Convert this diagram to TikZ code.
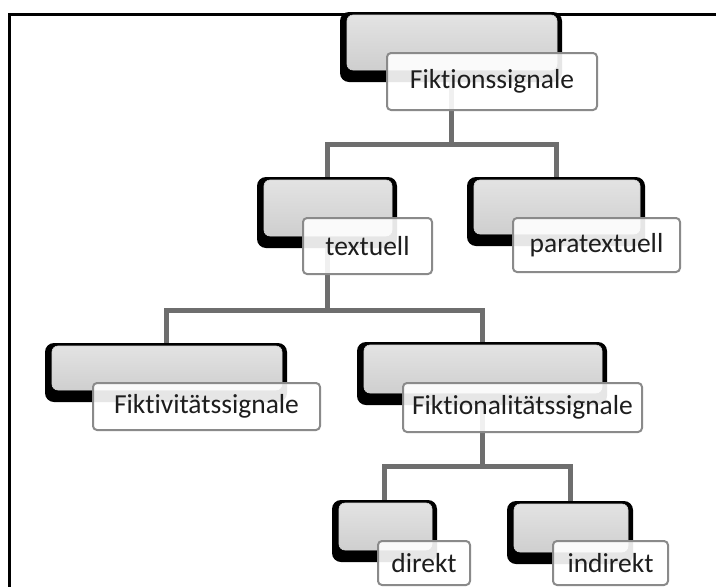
\documentclass[tikz,border=0pt]{standalone}
\usepackage{fontspec}
\setmainfont{Carlito}[Ligatures={NoCommon}]
\usetikzlibrary{backgrounds}
\definecolor{conncol}{HTML}{6E6E6E}
\definecolor{lblborder}{HTML}{8A8A8A}
\definecolor{txtcol}{HTML}{1E1E1E}
\definecolor{gtop}{HTML}{E4E4E4}
\definecolor{gbot}{HTML}{CACACA}
\tikzset{
  frameline/.style={line width=3pt, black},
  conn/.style={line width=5pt, conncol},
  gbox/.style={fill=black, rounded corners=9pt, inner sep=0pt, text width=0pt,
    path picture={
      \shade[top color=gtop, bottom color=gbot, draw=gray!35, line width=0.6pt, rounded corners=6pt]
        ([xshift=7pt,yshift=12pt]path picture bounding box.south west) rectangle
        ([xshift=-5pt,yshift=-3pt]path picture bounding box.north east);
    }},
  lbl/.style={draw=lblborder, line width=2pt, rounded corners=4pt, fill=white, fill opacity=0.9,
    text opacity=1, text=txtcol, inner sep=0pt, font=\fontsize{27.5}{31}\selectfont}
}
\begin{document}
\begin{tikzpicture}[x=1pt,y=-1pt]
\useasboundingbox (0,0) rectangle (716,587);
% gray boxes
\node[gbox, minimum width=222pt, minimum height=70pt] (g1) at (451,47) {};
\node[gbox, minimum width=140pt, minimum height=71pt] (g2) at (327,212.5) {};
\node[gbox, minimum width=178pt, minimum height=69pt] (g3) at (556,211.5) {};
\node[gbox, minimum width=242pt, minimum height=59pt] (g4) at (166,372.5) {};
\node[gbox, minimum width=250pt, minimum height=63pt] (g5) at (482,373.5) {};
\node[gbox, minimum width=105pt, minimum height=62pt] (g6) at (384.5,531) {};
\node[gbox, minimum width=126pt, minimum height=63pt] (g7) at (570,532.5) {};
\coordinate (j1) at (451,144);
\coordinate (j2) at (327,310);
\coordinate (j3) at (482,466);
\begin{pgfonlayer}{background}
% frame
\draw[frameline] (9,587) -- (9,14) -- (716,14);
% connectors
\draw[conn] (g1.center) -- (j1);
\draw[conn] (g2.north) |- (j1) -| (g3.north);
\draw[conn] (g2.center) -- (j2);
\draw[conn] (g4.north) |- (j2) -| (g5.north);
\draw[conn] (g5.center) -- (j3);
\draw[conn] (g6.north) |- (j3) -| (g7.north);
\end{pgfonlayer}
% labels
\node[lbl, minimum width=210pt, minimum height=57pt] (l1) at (492,81.5) {Fiktionssignale};
\node[lbl, minimum width=129pt, minimum height=56pt] (l2) at (367.5,246) {textuell};
\node[lbl, minimum width=167pt, minimum height=54pt] (l3) at (596.5,245) {paratextuell};
\node[lbl, minimum width=227pt, minimum height=47pt] (l4) at (206.5,406.5) {Fiktivitätssignale};
\node[lbl, minimum width=239pt, minimum height=49pt] (l5) at (522.5,407.5) {Fiktionalitätssignale};
\node[lbl, minimum width=92pt, minimum height=44pt] (l6) at (424,563) {direkt};
\node[lbl, minimum width=115pt, minimum height=44pt] (l7) at (610.5,563) {indirekt};
\end{tikzpicture}
\end{document}
